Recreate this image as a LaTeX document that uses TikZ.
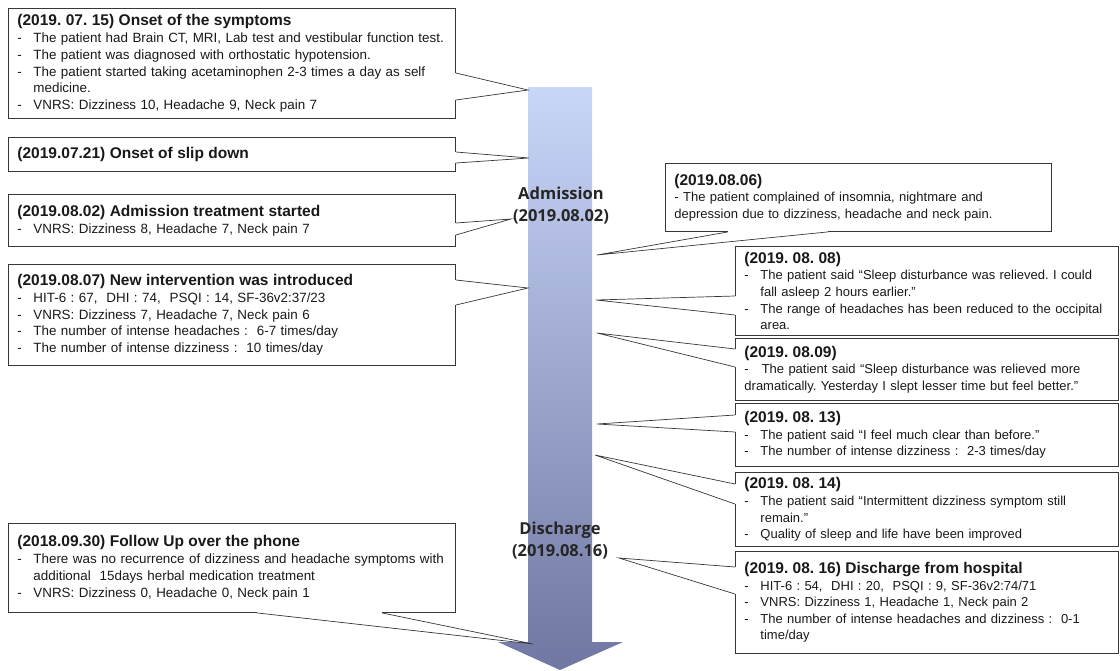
\documentclass[tikz,border=0pt]{standalone}
\usepackage{fontspec}
\setmainfont{Liberation Sans}
\newfontfamily\stagefont{Open Sans}
\usepackage{xcolor}
\definecolor{arrowtop}{RGB}{201,214,248}
\definecolor{arrowbot}{RGB}{112,119,162}
\definecolor{boxline}{RGB}{55,55,55}
\usetikzlibrary{positioning}
\setlength\parindent{0pt}
\frenchspacing
\hyphenpenalty=10000
\exhyphenpenalty=10000

\newcommand\hd[1]{{\fontsize{15.5}{19}\selectfont\bfseries #1\par}}
\newcommand\itm[1]{\par\hangindent=16pt\hangafter=1\noindent\makebox[16pt][l]{-}#1\par}
\newcommand\callout[3]{%
  \fill[white] (#1) -- (#2) -- (#3) -- cycle;
  \draw[white,line width=1.5pt] (#1) -- (#3);
  \draw[pointer] (#1) -- (#2) -- (#3);}

\begin{document}
\begin{tikzpicture}[x=1pt,y=-1pt,
  evbox/.style={draw=boxline,line width=0.9pt,anchor=north west,inner xsep=9pt,inner ysep=2pt,
    align=left,font=\fontsize{13.4}{16.8}\selectfont,text=black!90},
  leftbox/.style={evbox,text width=429pt},
  rightbox/.style={evbox,text width=365pt,font=\fontsize{13}{16.6}\selectfont},
  stage/.style={font=\stagefont\bfseries\fontsize{16.5}{22}\selectfont,align=center,text=black!85},
  pointer/.style={draw=boxline,line width=0.7pt}]
  \useasboundingbox (0,0) rectangle (1120,670);

  % timeline arrow
  \shade[top color=arrowtop,bottom color=arrowbot]
    (528,87) -- (592,87) -- (592,642) -- (623,642) -- (560,670) -- (498,642) -- (528,642) -- cycle;
  \node[stage] (admission) at (561,206) {Admission\\(2019.08.02)};
  \node[stage] (discharge) at (560,541) {Discharge\\(2019.08.16)};

  % where the callouts point
  \coordinate (tonset) at (528,90);
  \coordinate (tslip) at (529,158);
  \coordinate (tadmit) at (511,219);
  \coordinate (tinterv) at (528,288);
  \coordinate (tfollow) at (533,644);
  \coordinate (t0806) at (597,255);
  \coordinate (t0808) at (596,300);
  \coordinate (t0809) at (597,333);
  \coordinate (t0813) at (597,424);
  \coordinate (t0814) at (595,455);
  \coordinate (t0816) at (619,558);

  % left side
  \node[leftbox,minimum height=110pt] (onset) at (8,8) {%
    \hd{(2019. 07. 15) Onset of the symptoms}
    \itm{The patient had Brain CT, MRI, Lab test and vestibular function test.}
    \itm{The patient was diagnosed with orthostatic hypotension.}
    \itm{The patient started taking acetaminophen 2-3 times a day as self\newline medicine.}
    \itm{VNRS: Dizziness 10, Headache 9, Neck pain 7}};
  \node[leftbox,minimum height=34pt] (slip) at (8,137) {\hd{(2019.07.21) Onset of slip down}};
  \node[leftbox,minimum height=52pt] (admit) at (8,194) {%
    \hd{(2019.08.02) Admission treatment started}
    \itm{VNRS: Dizziness 8, Headache 7, Neck pain 7}};
  \node[leftbox,minimum height=101pt] (interv) at (8,264) {%
    \hd{(2019.08.07) New intervention was introduced}
    \itm{HIT-6 : 67,\ \ DHI : 74,\ \ PSQI : 14, SF-36v2:37/23}
    \itm{VNRS: Dizziness 7, Headache 7, Neck pain 6}
    \itm{The number of intense headaches :\ \ 6-7 times/day}
    \itm{The number of intense dizziness :\ \ 10 times/day}};
  \node[leftbox,minimum height=89pt] (follow) at (8,523) {%
    \hd{(2018.09.30) Follow Up over the phone}
    \itm{There was no recurrence of dizziness and headache symptoms with\newline additional\ \ 15days herbal medication treatment}
    \itm{VNRS: Dizziness 0, Headache 0, Neck pain 1}};

  % right side
  \node[evbox,text width=368pt,minimum height=68pt,font=\fontsize{13}{16.6}\selectfont] (d0806) at (665,163) {%
    \hd{(2019.08.06)}
    -\ The patient complained of insomnia, nightmare and\newline depression due to dizziness, headache and neck pain.};
  \node[rightbox,minimum height=89pt] (d0808) at (735,246) {%
    \hd{(2019. 08. 08)}
    \itm{The patient said “Sleep disturbance was relieved. I could\newline fall asleep 2 hours earlier.”}
    \itm{The range of headaches has been reduced to the occipital\newline area.}};
  \node[rightbox,minimum height=62pt] (d0809) at (735,338) {%
    \hd{(2019. 08.09)}
    -\ \ \ The patient said “Sleep disturbance was relieved more\newline dramatically. Yesterday I slept lesser time but feel better.”};
  \node[rightbox,minimum height=63pt] (d0813) at (735,403) {%
    \hd{(2019. 08. 13)}
    \itm{The patient said “I feel much clear than before.”}
    \itm{The number of intense dizziness :\ \ 2-3 times/day}};
  \node[rightbox,minimum height=74pt] (d0814) at (735,472) {%
    \hd{(2019. 08. 14)}
    \itm{The patient said “Intermittent dizziness symptom still\newline remain.”}
    \itm{Quality of sleep and life have been improved}};
  \node[rightbox,minimum height=102pt] (d0816) at (735,551) {%
    \hd{(2019. 08. 16) Discharge from hospital}
    \itm{HIT-6 : 54,\ \ DHI : 20,\ \ PSQI : 9, SF-36v2:74/71}
    \itm{VNRS: Dizziness 1, Headache 1, Neck pain 2}
    \itm{The number of intense headaches and dizziness :\ \ 0-1\newline time/day}};

  % callout pointers
  \callout{[yshift=-65pt]onset.north east}{tonset}{[yshift=-92pt]onset.north east}
  \callout{[yshift=-15pt]slip.north east}{tslip}{[yshift=-26pt]slip.north east}
  \callout{[yshift=-29pt]admit.north east}{tadmit}{[yshift=-41pt]admit.north east}
  \callout{[yshift=-16pt]interv.north east}{tinterv}{[yshift=-41pt]interv.north east}
  \callout{[xshift=249pt]follow.south west}{tfollow}{[xshift=374pt]follow.south west}
  \callout{[xshift=63pt]d0806.south west}{t0806}{[xshift=163pt]d0806.south west}
  \callout{[yshift=-50pt]d0808.north west}{t0808}{[yshift=-69pt]d0808.north west}
  \callout{[yshift=-11pt]d0809.north west}{t0809}{[yshift=-29pt]d0809.north west}
  \callout{[yshift=-12pt]d0813.north west}{t0813}{[yshift=-29pt]d0813.north west}
  \callout{[yshift=-12pt]d0814.north west}{t0814}{[yshift=-32pt]d0814.north west}
  \callout{[yshift=-16pt]d0816.north west}{t0816}{[yshift=-43pt]d0816.north west}
\end{tikzpicture}
\end{document}
